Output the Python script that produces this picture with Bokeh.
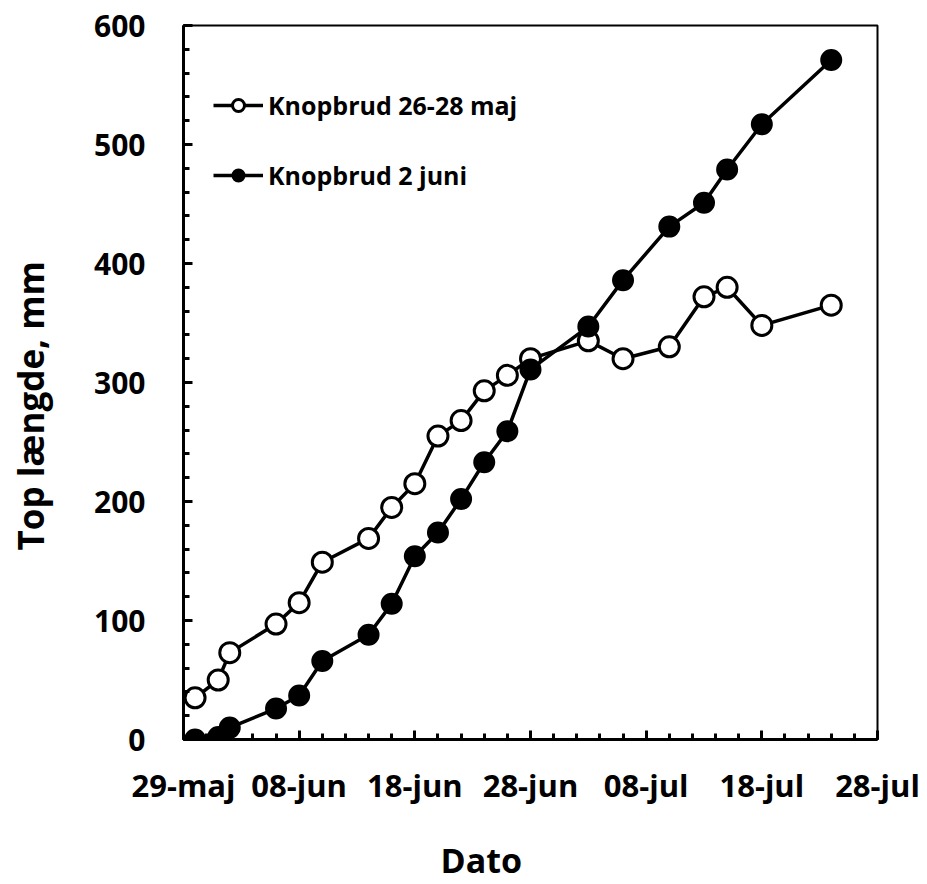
from datetime import datetime
from bokeh.plotting import figure
from bokeh.models import (ColumnDataSource, Range1d, FixedTicker, CustomJSTickFormatter,
                          Legend, LegendItem, Title)
from bokeh.embed import file_html
from bokeh.resources import INLINE

# ---- data ----
dates_early = ["2014-05-30", "2014-06-01", "2014-06-02", "2014-06-06", "2014-06-08", "2014-06-10",
               "2014-06-14", "2014-06-16", "2014-06-18", "2014-06-20", "2014-06-22", "2014-06-24",
               "2014-06-26", "2014-06-28", "2014-07-03", "2014-07-06", "2014-07-10", "2014-07-13",
               "2014-07-15", "2014-07-18", "2014-07-24"]
vals_early = [35, 50, 73, 97, 115, 149, 169, 195, 215, 255, 268, 293,
              306, 320, 335, 320, 330, 372, 380, 348, 365]

dates_late = ["2014-05-30", "2014-06-01", "2014-06-02", "2014-06-06", "2014-06-08", "2014-06-10",
              "2014-06-14", "2014-06-16", "2014-06-18", "2014-06-20", "2014-06-22", "2014-06-24",
              "2014-06-26", "2014-06-28", "2014-07-03", "2014-07-06", "2014-07-10", "2014-07-13",
              "2014-07-15", "2014-07-18", "2014-07-24"]
vals_late = [0, 2, 10, 26, 37, 66, 88, 114, 154, 174, 202, 233,
             259, 311, 347, 386, 431, 451, 479, 517, 571]

series_labels = ["Knopbrud 26-28 maj", "Knopbrud 2 juni"]
x_tick_dates = ["2014-05-29", "2014-06-08", "2014-06-18", "2014-06-28",
                "2014-07-08", "2014-07-18", "2014-07-28"]
y_ticks = [0, 100, 200, 300, 400, 500, 600]
y_label = "Top længde, mm"
x_label = "Dato"

FONT = "Open Sans"


def to_dt(s):
    return datetime.strptime(s, "%Y-%m-%d")


def to_ms(s):
    return (to_dt(s) - datetime(1970, 1, 1)).total_seconds() * 1000.0


src_a = ColumnDataSource(dict(x=[to_dt(d) for d in dates_early], y=vals_early))
src_b = ColumnDataSource(dict(x=[to_dt(d) for d in dates_late], y=vals_late))

x_start = to_dt(x_tick_dates[0])
x_end = to_dt(x_tick_dates[-1])

p = figure(width=927, height=884, x_axis_type="datetime",
           x_range=Range1d(x_start, x_end), y_range=Range1d(0, 600),
           output_backend="svg", toolbar_location=None,
           min_border_left=183, min_border_right=50, min_border_top=25, min_border_bottom=145)

p.background_fill_color = "white"
p.border_fill_color = "white"
p.outline_line_color = "black"
p.outline_line_width = 2
p.xgrid.visible = False
p.ygrid.visible = False

# x ticks
day_ms = 86400000.0
major_x = [to_ms(d) for d in x_tick_dates]
minor_x = [major_x[0] + k * 2 * day_ms for k in range(0, 31)]
p.xaxis.ticker = FixedTicker(ticks=major_x, minor_ticks=minor_x)
p.xaxis.formatter = CustomJSTickFormatter(code="""
const m = ["jan","feb","mar","apr","maj","jun","jul","aug","sep","okt","nov","dec"];
const d = new Date(tick);
const dd = String(d.getUTCDate()).padStart(2, "0");
return dd + "-" + m[d.getUTCMonth()];
""")
p.yaxis.ticker = FixedTicker(ticks=y_ticks, minor_ticks=list(range(0, 601, 20)))

for ax in (p.xaxis, p.yaxis):
    ax.axis_line_width = 3
    ax.axis_line_color = "black"
    ax.major_tick_in = 9
    ax.major_tick_out = 0
    ax.minor_tick_in = 6
    ax.minor_tick_out = 0
    ax.major_tick_line_width = 3
    ax.minor_tick_line_width = 3
    ax.major_label_text_font = FONT
    ax.major_label_text_font_style = "bold"
    ax.major_label_text_color = "black"

p.yaxis.major_label_text_font_size = "30px"
p.xaxis.major_label_text_font_size = "31px"
p.yaxis.major_label_standoff = 38
p.xaxis.major_label_standoff = 24

# series
r_la = p.line("x", "y", source=src_a, line_color="black", line_width=3.5)
r_sa = p.scatter("x", "y", source=src_a, marker="circle", size=20,
                 fill_color="white", line_color="black", line_width=3)
r_lb = p.line("x", "y", source=src_b, line_color="black", line_width=3.5)
r_sb = p.scatter("x", "y", source=src_b, marker="circle", size=20,
                 fill_color="black", line_color="black", line_width=2)

legend = Legend(items=[LegendItem(label=series_labels[0], renderers=[r_la, r_sa]),
                       LegendItem(label=series_labels[1], renderers=[r_lb, r_sb])],
                location=(30, 547), padding=0, spacing=36, glyph_width=50, glyph_height=30,
                label_height=30, label_standoff=5, border_line_color=None,
                background_fill_alpha=0.0,
                label_text_font=FONT, label_text_font_style="bold",
                label_text_font_size="25px", label_text_color="black")
p.add_layout(legend)

# axis titles as side titles
p.add_layout(Title(text=y_label, align="left", offset=189, standoff=0, vertical_align="bottom",
                   padding=(0, 0, 0, 38),
                   text_font=FONT, text_font_style="bold", text_font_size="35px",
                   text_color="black"), "left")
p.add_layout(Title(text=x_label, align="left", offset=257, standoff=0, vertical_align="top",
                   padding=(0, 0, 28, 0),
                   text_font=FONT, text_font_style="bold", text_font_size="34px",
                   text_color="black"), "below")

open("out.html", "w").write(file_html(p, INLINE))
